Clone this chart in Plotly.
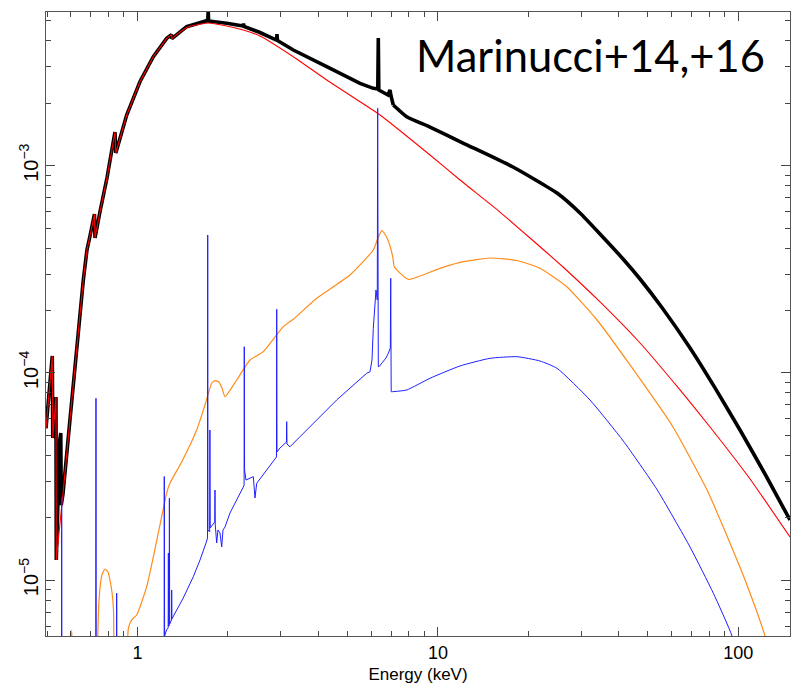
import math
import plotly.graph_objects as go

# ---- data (energy in keV, model flux) ----
black_E = [0.496, 0.5205, 0.5224, 0.5354, 0.5366, 0.5512, 0.5555, 0.5576, 0.5649, 0.5959, 0.6241,
           0.6602, 0.6788, 0.6947, 0.7191, 0.7220, 0.7499, 0.7914, 0.8415, 0.8470, 0.9206, 1.019,
           1.129, 1.251, 1.298, 1.302, 1.458, 1.700, 1.714, 1.7195, 1.725, 1.981, 2.245, 2.254,
           2.262, 2.557, 2.902, 2.913, 2.924, 3.301, 4.265, 5.505, 6.095, 6.308, 6.333, 6.357,
           6.823, 6.928, 6.981, 7.104, 7.872, 9.412, 12.12, 17.78, 24.92, 29.72, 34.64, 41.33,
           47.08, 56.15, 69.07, 83.64, 101.3, 122.7, 148.6]
black_F = [5.40e-5, 1.207e-4, 4.85e-5, 7.65e-5, 1.25e-5, 4.745e-5, 5.13e-5, 2.305e-5, 2.60e-5,
           5.925e-5, 1.193e-4, 2.808e-4, 3.918e-4, 4.577e-4, 5.846e-4, 4.479e-4, 5.976e-4,
           8.72e-4, 1.454e-3, 1.152e-3, 1.757e-3, 2.543e-3, 3.358e-3, 4.118e-3, 4.296e-3,
           4.108e-3, 4.687e-3, 5.01e-3, 4.994e-3, 5.64e-3, 4.994e-3, 4.868e-3, 4.724e-3,
           4.857e-3, 4.697e-3, 4.394e-3, 4.043e-3, 4.32e-3, 4.02e-3, 3.619e-3, 3.005e-3,
           2.498e-3, 2.363e-3, 2.345e-3, 4.133e-3, 2.319e-3, 2.194e-3, 2.319e-3, 2.17e-3,
           1.963e-3, 1.724e-3, 1.537e-3, 1.287e-3, 9.86e-4, 7.38e-4, 5.91e-4, 4.68e-4,
           3.546e-4, 2.839e-4, 2.034e-4, 1.318e-4, 8.46e-5, 5.30e-5, 3.25e-5, 1.95e-5]

red_E = [0.496, 0.5205, 0.5224, 0.5354, 0.5366, 0.5649, 0.5959, 0.6241, 0.6602, 0.6788, 0.6947,
         0.7191, 0.7220, 0.7499, 0.7914, 0.8415, 0.8470, 0.9206, 1.019, 1.129, 1.251, 1.298,
         1.302, 1.458, 1.717, 1.981, 2.250, 2.557, 3.301, 4.265, 5.505, 6.417, 9.412, 11.85,
         16.09, 20.26, 26.09, 34.65, 47.08, 63.97, 80.5, 109.4, 148.6]
red_F = [5.40e-5, 1.207e-4, 4.85e-5, 7.65e-5, 1.25e-5, 2.60e-5, 5.925e-5, 1.193e-4, 2.808e-4,
         3.918e-4, 4.577e-4, 5.846e-4, 4.479e-4, 5.976e-4, 8.72e-4, 1.454e-3, 1.152e-3,
         1.757e-3, 2.543e-3, 3.358e-3, 4.118e-3, 4.296e-3, 4.108e-3, 4.645e-3, 4.884e-3,
         4.724e-3, 4.518e-3, 4.227e-3, 3.358e-3, 2.592e-3, 2.036e-3, 1.757e-3, 1.126e-3,
         8.53e-4, 5.975e-4, 4.478e-4, 3.244e-4, 2.199e-4, 1.394e-4, 8.27e-5, 5.48e-5,
         3.075e-5, 1.614e-5]

orange_E = [0.5916, 0.604, 0.617, None,
            0.7305, 0.7446, 0.7615, 0.7794, 0.7977, 0.8098, 0.8224, 0.8320, 0.8351, None,
            0.9157, 0.9333, 0.9565, 0.9939, 1.073, 1.188, 1.251, 1.283, 1.403, 1.574, 1.678,
            1.766, 1.811, 1.867, 1.911, 1.956, 2.139, 2.369, 2.623, 3.058, 3.301, 3.950, 5.097,
            6.095, 6.318, 6.501, 6.718, 6.928, 7.087, 7.159, 7.970, 10.16, 12.15, 14.91, 18.34,
            21.88, 26.91, 33.86, 43.6, 60.6, 78.7, 91.7, 105.3, 122.7, 132.5]
orange_F = [3e-6, 5.74e-6, 3e-6, None,
            3e-6, 8.02e-6, 1.058e-5, 1.131e-5, 1.094e-5, 1.0e-5, 8.76e-6, 7.17e-6, 3e-6, None,
            3e-6, 5.87e-6, 6.42e-6, 6.78e-6, 9.29e-6, 1.844e-5, 2.633e-5, 2.94e-5, 3.715e-5,
            5.30e-5, 7.0e-5, 8.91e-5, 9.17e-5, 9.04e-5, 8.46e-5, 7.68e-5, 9.24e-5, 1.154e-4,
            1.266e-4, 1.671e-4, 1.814e-4, 2.291e-4, 2.969e-4, 3.918e-4, 4.479e-4, 4.857e-4,
            4.577e-4, 4.097e-4, 3.585e-4, 3.254e-4, 2.829e-4, 3.197e-4, 3.441e-4, 3.585e-4,
            3.487e-4, 3.197e-4, 2.598e-4, 1.80e-4, 1.092e-4, 5.48e-5, 2.72e-5, 1.632e-5,
            1.0e-5, 5.37e-6, 3.5e-6]

blue_E = [0.5113, 0.5585, 0.5594, 0.5602, 0.7264, 0.7275, 0.7286, 0.8513, 0.8526, 0.8539,
          1.226, 1.228, 1.231, 1.249, 1.265, 1.267, 1.270, 1.275, 1.277, 1.280, 1.298, 1.2997,
          1.302, 1.351, 1.420, 1.534, 1.615, 1.700, 1.710, 1.713, 1.716, 1.739, 1.742, 1.746,
          1.808, 1.811, 1.815, 1.835, 1.853, 1.882, 1.907, 1.926, 1.956, 2.032, 2.250, 2.264,
          2.267, 2.272, 2.297, 2.430, 2.461, 2.494, 2.902, 2.907, 2.913, 2.981, 3.133, 3.138,
          3.145, 3.218, 3.950, 4.604, 5.794, 5.943, 6.034, 6.095, 6.221, 6.284, 6.303, 6.333,
          6.367, 6.718, 6.839, 6.944, 6.966, 6.991, 7.051, 7.872, 9.412, 11.85, 14.91, 18.34,
          21.88, 24.92, 32.08, 41.41, 53.5, 69.07, 82.57, 95.3, 105.3]
blue_F = [2e-6, 2e-6, 2.52e-5, 2e-6, 2e-6, 7.54e-5, 2e-6, 2e-6, 8.64e-6, 2e-6,
          2e-6, 3.16e-5, 5.37e-6, 5.74e-6, 5.87e-6, 1.351e-5, 6.0e-6, 6.0e-6, 2.483e-5, 6.14e-6,
          6.42e-6, 8.96e-6, 6.49e-6, 7.17e-6, 8.19e-6, 1.038e-5, 1.25e-5, 1.544e-5, 1.596e-5,
          4.628e-4, 1.745e-5, 1.706e-5, 5.30e-5, 1.784e-5, 1.907e-5, 2.72e-5, 1.844e-5,
          1.51e-5, 1.745e-5, 1.688e-5, 1.444e-5, 1.745e-5, 1.804e-5, 2.108e-5, 2.813e-5,
          2.877e-5, 1.338e-4, 3.40e-5, 3.04e-5, 3.155e-5, 2.49e-5, 2.932e-5, 3.928e-5,
          2.027e-4, 4.15e-5, 4.34e-5, 4.64e-5, 5.815e-5, 4.535e-5, 4.40e-5, 5.925e-5, 7.40e-5,
          9.96e-5, 1.013e-4, 1.154e-4, 1.641e-4, 2.513e-4, 2.248e-4, 1.892e-3, 1.071e-4,
          1.071e-4, 1.18e-4, 1.243e-4, 1.318e-4, 2.861e-4, 8.11e-5, 8.11e-5, 8.27e-5, 9.42e-5,
          1.08e-4, 1.176e-4, 1.197e-4, 1.141e-4, 1.052e-4, 7.40e-5, 4.69e-5, 2.75e-5,
          1.444e-5, 8.64e-6, 5.37e-6, 3e-6]

x_range = [0.496, 148.6]
y_range = [5.37e-6, 5.52e-3]
x_ticks = [1, 10, 100]
x_ticklabels = ["1", "10", "100"]
label_text = "Marinucci+14,+16"

# energy above which each model is a smooth continuum (no lines / edges)
black_smooth_from = 7.104
red_smooth_from = 1.302
blue_smooth_from = 7.051


def split(E, F, e0):
    lo = [(e, f) for e, f in zip(E, F) if e <= e0]
    hi = [(e, f) for e, f in zip(E, F) if e >= e0]
    return ([p[0] for p in lo], [p[1] for p in lo]), ([p[0] for p in hi], [p[1] for p in hi])


fig = go.Figure()


def add_model(E, F, e0, color, width):
    (xl, yl), (xh, yh) = split(E, F, e0)
    fig.add_trace(go.Scatter(x=xl, y=yl, mode="lines",
                             line=dict(color=color, width=width, simplify=False), hoverinfo="skip"))
    fig.add_trace(go.Scatter(x=xh, y=yh, mode="lines",
                             line=dict(color=color, width=width, shape="spline", smoothing=0.5,
                                       simplify=False), hoverinfo="skip"))


add_model(black_E, black_F, black_smooth_from, "black", 3.6)
add_model(red_E, red_F, red_smooth_from, "#ff0000", 1.1)
fig.add_trace(go.Scatter(x=orange_E, y=orange_F, mode="lines", connectgaps=False,
                         line=dict(color="#ff8c1a", width=1.2, shape="spline", smoothing=0.5,
                                   simplify=False), hoverinfo="skip"))
add_model(blue_E, blue_F, blue_smooth_from, "#1f1fff", 1.0)

tick_font = dict(family="Liberation Sans, Arial, sans-serif", size=18, color="black")
axis_common = dict(showline=True, linecolor="#555555", linewidth=1.2, mirror="allticks",
                   ticks="inside", ticklen=9, tickcolor="#444444", tickwidth=1,
                   showgrid=False, zeroline=False)

fig.update_xaxes(type="log", range=[math.log10(x_range[0]), math.log10(x_range[1])],
                 tickvals=x_ticks, ticktext=x_ticklabels, tickfont=tick_font,
                 minor=dict(ticks="inside", ticklen=5, tickcolor="#444444", dtick="D1", showgrid=False),
                 title=dict(text="Energy (keV)", standoff=6,
                            font=dict(family="Liberation Sans, Arial, sans-serif", size=17, color="black")),
                 **axis_common)
fig.update_yaxes(type="log", range=[math.log10(y_range[0]), math.log10(y_range[1])],
                 dtick=1, exponentformat="power", tickangle=-90,
                 tickfont=dict(family="Liberation Sans, Arial, sans-serif", size=16, color="black"),
                 minor=dict(ticks="inside", ticklen=5, tickcolor="#444444", dtick="D1", showgrid=False),
                 **axis_common)

fig.add_annotation(text=label_text, xref="paper", yref="paper", x=0.495, y=0.931,
                   xanchor="left", yanchor="middle", showarrow=False,
                   font=dict(family="Lato, sans-serif", size=43.5, color="black"))

fig.update_layout(width=791, height=694, margin=dict(l=46, r=1, t=12, b=58),
                  plot_bgcolor="white", paper_bgcolor="white", showlegend=False)

fig.write_html("out.html")
